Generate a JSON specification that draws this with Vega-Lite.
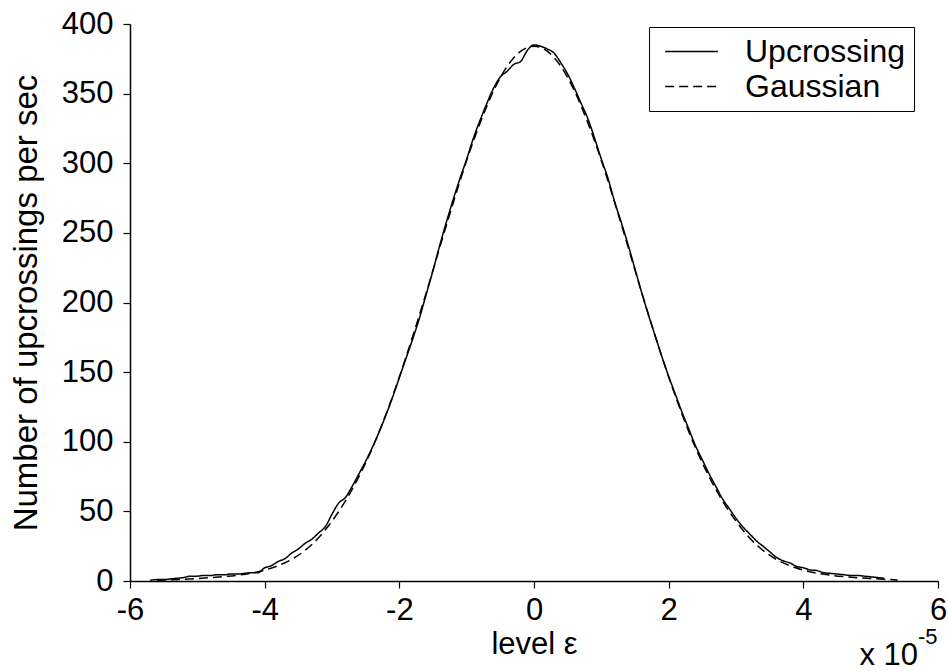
{
  "$schema": "https://vega.github.io/schema/vega-lite/v6.json",
  "width": 808,
  "height": 557,
  "autosize": {"type": "none"},
  "padding": {"left": 130, "top": 24, "right": 10, "bottom": 90},
  "background": "white",
  "config": {
    "font": "Liberation Sans",
    "view": {"stroke": null},
    "axis": {
      "grid": false,
      "domainColor": "black",
      "domainWidth": 1.5,
      "tickColor": "black",
      "tickWidth": 1.2,
      "tickSize": 7,
      "labelColor": "black",
      "labelFontSize": 31,
      "titleColor": "black",
      "titleFontSize": 31,
      "titleFontWeight": "normal",
      "labelFlush": false,
      "labelOverlap": false
    },
    "legend": {
      "labelFontSize": 32,
      "labelColor": "black",
      "labelLimit": 400
    }
  },
  "datasets": {
    "curves": [
      {"series": "Upcrossing", "eps": -5.7, "n": 0.5},
      {"series": "Upcrossing", "eps": -5.6, "n": 1},
      {"series": "Upcrossing", "eps": -5.5, "n": 1},
      {"series": "Upcrossing", "eps": -5.4, "n": 1.5},
      {"series": "Upcrossing", "eps": -5.3, "n": 2},
      {"series": "Upcrossing", "eps": -5.2, "n": 2.5},
      {"series": "Upcrossing", "eps": -5.1, "n": 3.5},
      {"series": "Upcrossing", "eps": -5.0, "n": 3.5},
      {"series": "Upcrossing", "eps": -4.9, "n": 4},
      {"series": "Upcrossing", "eps": -4.8, "n": 4},
      {"series": "Upcrossing", "eps": -4.7, "n": 4.5},
      {"series": "Upcrossing", "eps": -4.6, "n": 4.5},
      {"series": "Upcrossing", "eps": -4.5, "n": 5},
      {"series": "Upcrossing", "eps": -4.4, "n": 5},
      {"series": "Upcrossing", "eps": -4.3, "n": 5.5},
      {"series": "Upcrossing", "eps": -4.2, "n": 6},
      {"series": "Upcrossing", "eps": -4.1, "n": 6},
      {"series": "Upcrossing", "eps": -4.0, "n": 9.5},
      {"series": "Upcrossing", "eps": -3.9, "n": 11},
      {"series": "Upcrossing", "eps": -3.8, "n": 14},
      {"series": "Upcrossing", "eps": -3.7, "n": 16},
      {"series": "Upcrossing", "eps": -3.6, "n": 20},
      {"series": "Upcrossing", "eps": -3.5, "n": 23},
      {"series": "Upcrossing", "eps": -3.4, "n": 27},
      {"series": "Upcrossing", "eps": -3.3, "n": 30},
      {"series": "Upcrossing", "eps": -3.2, "n": 34.5},
      {"series": "Upcrossing", "eps": -3.1, "n": 39},
      {"series": "Upcrossing", "eps": -3.0, "n": 48},
      {"series": "Upcrossing", "eps": -2.9, "n": 56},
      {"series": "Upcrossing", "eps": -2.8, "n": 60},
      {"series": "Upcrossing", "eps": -2.7, "n": 68},
      {"series": "Upcrossing", "eps": -2.6, "n": 77},
      {"series": "Upcrossing", "eps": -2.5, "n": 86},
      {"series": "Upcrossing", "eps": -2.4, "n": 96},
      {"series": "Upcrossing", "eps": -2.3, "n": 107},
      {"series": "Upcrossing", "eps": -2.2, "n": 119},
      {"series": "Upcrossing", "eps": -2.1, "n": 132},
      {"series": "Upcrossing", "eps": -2.0, "n": 146},
      {"series": "Upcrossing", "eps": -1.9, "n": 160},
      {"series": "Upcrossing", "eps": -1.8, "n": 174},
      {"series": "Upcrossing", "eps": -1.7, "n": 189},
      {"series": "Upcrossing", "eps": -1.6, "n": 206},
      {"series": "Upcrossing", "eps": -1.5, "n": 223},
      {"series": "Upcrossing", "eps": -1.4, "n": 241},
      {"series": "Upcrossing", "eps": -1.3, "n": 258},
      {"series": "Upcrossing", "eps": -1.2, "n": 274},
      {"series": "Upcrossing", "eps": -1.1, "n": 289},
      {"series": "Upcrossing", "eps": -1.0, "n": 303},
      {"series": "Upcrossing", "eps": -0.9, "n": 318},
      {"series": "Upcrossing", "eps": -0.8, "n": 331},
      {"series": "Upcrossing", "eps": -0.7, "n": 343},
      {"series": "Upcrossing", "eps": -0.6, "n": 354},
      {"series": "Upcrossing", "eps": -0.5, "n": 362},
      {"series": "Upcrossing", "eps": -0.4, "n": 366},
      {"series": "Upcrossing", "eps": -0.3, "n": 371},
      {"series": "Upcrossing", "eps": -0.2, "n": 373},
      {"series": "Upcrossing", "eps": -0.1, "n": 381},
      {"series": "Upcrossing", "eps": 0.0, "n": 385},
      {"series": "Upcrossing", "eps": 0.1, "n": 384},
      {"series": "Upcrossing", "eps": 0.2, "n": 382},
      {"series": "Upcrossing", "eps": 0.3, "n": 379},
      {"series": "Upcrossing", "eps": 0.4, "n": 372},
      {"series": "Upcrossing", "eps": 0.5, "n": 364},
      {"series": "Upcrossing", "eps": 0.6, "n": 354},
      {"series": "Upcrossing", "eps": 0.7, "n": 343},
      {"series": "Upcrossing", "eps": 0.8, "n": 332},
      {"series": "Upcrossing", "eps": 0.9, "n": 318},
      {"series": "Upcrossing", "eps": 1.0, "n": 303},
      {"series": "Upcrossing", "eps": 1.1, "n": 289},
      {"series": "Upcrossing", "eps": 1.2, "n": 272},
      {"series": "Upcrossing", "eps": 1.3, "n": 257},
      {"series": "Upcrossing", "eps": 1.4, "n": 241},
      {"series": "Upcrossing", "eps": 1.5, "n": 224},
      {"series": "Upcrossing", "eps": 1.6, "n": 207},
      {"series": "Upcrossing", "eps": 1.7, "n": 191},
      {"series": "Upcrossing", "eps": 1.8, "n": 176},
      {"series": "Upcrossing", "eps": 1.9, "n": 161},
      {"series": "Upcrossing", "eps": 2.0, "n": 147},
      {"series": "Upcrossing", "eps": 2.1, "n": 134},
      {"series": "Upcrossing", "eps": 2.2, "n": 121},
      {"series": "Upcrossing", "eps": 2.3, "n": 109},
      {"series": "Upcrossing", "eps": 2.4, "n": 97},
      {"series": "Upcrossing", "eps": 2.5, "n": 87},
      {"series": "Upcrossing", "eps": 2.6, "n": 77},
      {"series": "Upcrossing", "eps": 2.7, "n": 68},
      {"series": "Upcrossing", "eps": 2.8, "n": 59},
      {"series": "Upcrossing", "eps": 2.9, "n": 52},
      {"series": "Upcrossing", "eps": 3.0, "n": 45},
      {"series": "Upcrossing", "eps": 3.1, "n": 39},
      {"series": "Upcrossing", "eps": 3.2, "n": 34},
      {"series": "Upcrossing", "eps": 3.3, "n": 29},
      {"series": "Upcrossing", "eps": 3.4, "n": 25},
      {"series": "Upcrossing", "eps": 3.5, "n": 21},
      {"series": "Upcrossing", "eps": 3.6, "n": 17},
      {"series": "Upcrossing", "eps": 3.7, "n": 14.5},
      {"series": "Upcrossing", "eps": 3.8, "n": 13},
      {"series": "Upcrossing", "eps": 3.9, "n": 10.5},
      {"series": "Upcrossing", "eps": 4.0, "n": 9.5},
      {"series": "Upcrossing", "eps": 4.1, "n": 8},
      {"series": "Upcrossing", "eps": 4.2, "n": 7.5},
      {"series": "Upcrossing", "eps": 4.3, "n": 6},
      {"series": "Upcrossing", "eps": 4.4, "n": 5.5},
      {"series": "Upcrossing", "eps": 4.5, "n": 5},
      {"series": "Upcrossing", "eps": 4.6, "n": 4.5},
      {"series": "Upcrossing", "eps": 4.7, "n": 4},
      {"series": "Upcrossing", "eps": 4.8, "n": 4},
      {"series": "Upcrossing", "eps": 4.9, "n": 3.5},
      {"series": "Upcrossing", "eps": 5.0, "n": 3},
      {"series": "Upcrossing", "eps": 5.1, "n": 2.5},
      {"series": "Upcrossing", "eps": 5.2, "n": 2},
      {"series": "Gaussian", "eps": -5.6, "n": 0.5},
      {"series": "Gaussian", "eps": -5.4, "n": 0.8},
      {"series": "Gaussian", "eps": -5.2, "n": 1.2},
      {"series": "Gaussian", "eps": -5.0, "n": 1.8},
      {"series": "Gaussian", "eps": -4.8, "n": 2.4},
      {"series": "Gaussian", "eps": -4.6, "n": 3.2},
      {"series": "Gaussian", "eps": -4.4, "n": 4.2},
      {"series": "Gaussian", "eps": -4.2, "n": 5.6},
      {"series": "Gaussian", "eps": -4.0, "n": 7.8},
      {"series": "Gaussian", "eps": -3.8, "n": 11},
      {"series": "Gaussian", "eps": -3.6, "n": 15.5},
      {"series": "Gaussian", "eps": -3.4, "n": 22},
      {"series": "Gaussian", "eps": -3.2, "n": 31},
      {"series": "Gaussian", "eps": -3.0, "n": 43},
      {"series": "Gaussian", "eps": -2.8, "n": 57.5},
      {"series": "Gaussian", "eps": -2.6, "n": 75},
      {"series": "Gaussian", "eps": -2.4, "n": 95.5},
      {"series": "Gaussian", "eps": -2.2, "n": 119.5},
      {"series": "Gaussian", "eps": -2.0, "n": 146.5},
      {"series": "Gaussian", "eps": -1.8, "n": 176},
      {"series": "Gaussian", "eps": -1.6, "n": 207},
      {"series": "Gaussian", "eps": -1.4, "n": 239.5},
      {"series": "Gaussian", "eps": -1.2, "n": 271.5},
      {"series": "Gaussian", "eps": -1.0, "n": 302},
      {"series": "Gaussian", "eps": -0.8, "n": 329},
      {"series": "Gaussian", "eps": -0.6, "n": 352},
      {"series": "Gaussian", "eps": -0.4, "n": 369.5},
      {"series": "Gaussian", "eps": -0.2, "n": 380.3},
      {"series": "Gaussian", "eps": 0.0, "n": 384},
      {"series": "Gaussian", "eps": 0.2, "n": 380.3},
      {"series": "Gaussian", "eps": 0.4, "n": 369.5},
      {"series": "Gaussian", "eps": 0.6, "n": 352},
      {"series": "Gaussian", "eps": 0.8, "n": 329},
      {"series": "Gaussian", "eps": 1.0, "n": 302},
      {"series": "Gaussian", "eps": 1.2, "n": 271.5},
      {"series": "Gaussian", "eps": 1.4, "n": 239.5},
      {"series": "Gaussian", "eps": 1.6, "n": 207},
      {"series": "Gaussian", "eps": 1.8, "n": 176},
      {"series": "Gaussian", "eps": 2.0, "n": 146.5},
      {"series": "Gaussian", "eps": 2.2, "n": 119.5},
      {"series": "Gaussian", "eps": 2.4, "n": 95.5},
      {"series": "Gaussian", "eps": 2.6, "n": 75},
      {"series": "Gaussian", "eps": 2.8, "n": 57.5},
      {"series": "Gaussian", "eps": 3.0, "n": 43},
      {"series": "Gaussian", "eps": 3.2, "n": 31},
      {"series": "Gaussian", "eps": 3.4, "n": 22},
      {"series": "Gaussian", "eps": 3.6, "n": 15.5},
      {"series": "Gaussian", "eps": 3.8, "n": 11},
      {"series": "Gaussian", "eps": 4.0, "n": 7.8},
      {"series": "Gaussian", "eps": 4.2, "n": 5.6},
      {"series": "Gaussian", "eps": 4.4, "n": 4.2},
      {"series": "Gaussian", "eps": 4.6, "n": 3.2},
      {"series": "Gaussian", "eps": 4.8, "n": 2.4},
      {"series": "Gaussian", "eps": 5.0, "n": 1.8},
      {"series": "Gaussian", "eps": 5.2, "n": 1.2},
      {"series": "Gaussian", "eps": 5.4, "n": 0.8}
    ],
    "scaleNote": [
      {"base": "x 10", "exp": "-5"}
    ]
  },
  "layer": [
    {
      "data": {"name": "curves"},
      "mark": {"type": "line", "color": "black", "strokeWidth": 1.5, "interpolate": "monotone"},
      "encoding": {
        "x": {
          "field": "eps",
          "type": "quantitative",
          "scale": {"domain": [-6, 6], "nice": false},
          "axis": {
            "values": [-6, -4, -2, 0, 2, 4, 6],
            "labelExpr": "datum.value < 0 ? '-' + abs(datum.value) : '' + datum.value",
            "title": "level ε",
            "labelPadding": 7,
            "titlePadding": 4
          }
        },
        "y": {
          "field": "n",
          "type": "quantitative",
          "scale": {"domain": [0, 400], "nice": false},
          "axis": {
            "values": [0, 50, 100, 150, 200, 250, 300, 350, 400],
            "title": "Number of upcrossings per sec",
            "titleFontSize": 33,
            "labelPadding": 10,
            "titlePadding": 18
          }
        },
        "strokeDash": {
          "field": "series",
          "type": "nominal",
          "scale": {"domain": ["Upcrossing", "Gaussian"], "range": [[1, 0], [9, 5]]},
          "legend": {
            "title": null,
            "orient": "none",
            "legendX": 519,
            "legendY": 3,
            "padding": 8,
            "strokeColor": "black",
            "symbolType": "M -1.7 0 L 1.7 0",
            "symbolSize": 961,
            "symbolStrokeWidth": 1.5,
            "symbolStrokeColor": "black",
            "symbolFillColor": "transparent",
            "symbolOffset": 18,
            "labelOffset": 37,
            "labelLimit": 400,
            "labelExpr": "datum.label + '\u00a0\u00a0'"
          }
        },
        "order": {"field": "eps", "type": "quantitative"}
      }
    },
    {
      "data": {"name": "scaleNote"},
      "mark": {"type": "text", "align": "right", "baseline": "alphabetic", "fontSize": 31, "color": "black", "dx": -20, "dy": 84},
      "encoding": {
        "x": {"datum": 6},
        "y": {"datum": 0},
        "text": {"field": "base"}
      }
    },
    {
      "data": {"name": "scaleNote"},
      "mark": {"type": "text", "align": "left", "baseline": "alphabetic", "fontSize": 22, "color": "black", "dx": -20, "dy": 63},
      "encoding": {
        "x": {"datum": 6},
        "y": {"datum": 0},
        "text": {"field": "exp"}
      }
    }
  ]
}
